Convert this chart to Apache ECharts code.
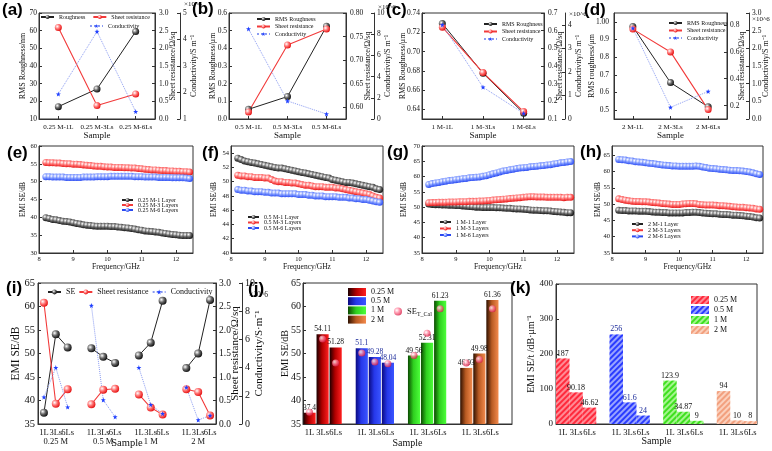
<!DOCTYPE html>
<html><head><meta charset="utf-8">
<script src="https://cdn.jsdelivr.net/npm/echarts/dist/echarts.min.js"></script>
<style>html,body{margin:0;padding:0;background:#fff}#c{width:772px;height:451px}</style>
</head><body><div id="c"></div>
<script>
// ---------------- DATA ----------------
// (a)
const aCats = ['0.25 M-1L','0.25 M-3Ls','0.25 M-6Ls'];
const aRough = [17.0, 27.0, 59.5];
const aSheet = [2.59, 0.38, 0.71];
const aCond  = [1.94, 4.30, 1.28];
// (b)
const bCats = ['0.5 M-1L','0.5 M-3Ls','0.5 M-6Ls'];
const bRough = [0.055, 0.127, 0.525];
const bSheet = [0.59, 0.732, 0.766];
const bCond  = [8.5, 1.7, 0.47];
// (c)
const cCats = ['1 M-1L','1 M-3Ls','1 M-6Ls'];
const cRough = [0.729, 0.6775, 0.636];
const cSheet = [0.62, 0.363, 0.142];
const cCond  = [4.0, 1.35, 0.24];
// (d)
const dCats = ['2 M-1L','2 M-3Ls','2 M-6Ls'];
const dRough = [0.973, 0.656, 0.519];
const dSheet = [0.77, 0.60, 0.17];
const dCond  = [2.57, 0.33, 0.78];

// (e)-(h) frequency sweeps
const freq = [8.2,8.3,8.4,8.5,8.6,8.7,8.8,8.9,9.0,9.1,9.2,9.3,9.4,9.5,9.6,9.7,9.8,9.9,10.0,10.1,10.2,10.3,10.4,10.5,10.6,10.7,10.8,10.9,11.0,11.1,11.2,11.3,11.4,11.5,11.6,11.7,11.8,11.9,12.0,12.1,12.2,12.3,12.4];
const eNames = ['0.25 M-1 Layer','0.25 M-3 Layers','0.25 M-6 Layers'];
const e1 = [39.9,39.7,39.4,39.3,39.1,38.9,38.8,38.7,38.5,38.3,38.1,37.9,37.8,37.7,37.6,37.5,37.5,37.5,37.5,37.4,37.4,37.3,37.2,37.1,37.0,36.9,36.7,36.5,36.4,36.2,36.1,36.0,35.9,35.8,35.6,35.5,35.3,35.2,35.1,35.0,34.9,34.9,34.9];
const e3 = [55.4,55.3,55.3,55.2,55.2,55.1,55.0,55.0,54.9,54.9,54.8,54.7,54.6,54.5,54.4,54.3,54.3,54.2,54.1,54.1,54.0,54.0,54.0,53.9,53.9,53.8,53.8,53.7,53.6,53.5,53.4,53.3,53.3,53.2,53.1,53.1,53.0,53.0,52.9,52.9,52.8,52.8,52.7];
const e6 = [51.4,51.4,51.3,51.3,51.3,51.3,51.2,51.2,51.2,51.2,51.2,51.3,51.3,51.3,51.3,51.4,51.4,51.4,51.4,51.5,51.5,51.5,51.5,51.5,51.5,51.5,51.4,51.4,51.4,51.3,51.3,51.3,51.3,51.2,51.2,51.2,51.2,51.1,51.1,51.1,51.1,51.0,50.9];
const fNames = ['0.5 M-1 Layer','0.5 M-3 Layers','0.5 M-6 Layers'];
const f1 = [53.3,53.1,52.9,52.8,52.7,52.6,52.5,52.4,52.3,52.2,52.1,52.0,51.9,51.9,51.8,51.7,51.6,51.5,51.4,51.3,51.2,51.1,51.0,50.9,50.8,50.7,50.6,50.5,50.3,50.2,50.1,50.0,49.9,49.9,49.8,49.7,49.6,49.5,49.4,49.3,49.2,49.0,48.9];
const f3 = [50.9,50.8,50.8,50.7,50.7,50.6,50.6,50.6,50.5,50.5,50.3,50.1,50.0,50.0,49.9,49.9,49.8,49.8,49.7,49.6,49.5,49.5,49.4,49.3,49.3,49.3,49.2,49.2,49.2,49.1,49.1,49.0,48.9,48.8,48.7,48.6,48.5,48.4,48.3,48.2,48.0,47.8,47.7];
const f6 = [48.9,48.8,48.8,48.7,48.7,48.6,48.6,48.6,48.5,48.5,48.4,48.4,48.4,48.3,48.3,48.3,48.3,48.3,48.2,48.2,48.2,48.1,48.1,48.0,48.0,48.0,47.9,47.9,47.9,47.9,47.8,47.8,47.8,47.7,47.7,47.6,47.6,47.5,47.5,47.4,47.3,47.2,47.1];
const gNames = ['1 M-1 Layer','1 M-3 Layers','1 M-6 Layers'];
const g1 = [51.0,50.9,50.8,50.8,50.7,50.7,50.6,50.6,50.5,50.5,50.4,50.3,50.2,50.1,50.0,50.0,49.9,49.9,49.9,49.9,49.8,49.8,49.7,49.6,49.6,49.5,49.4,49.4,49.3,49.2,49.1,49.0,49.0,48.9,48.8,48.8,48.7,48.6,48.5,48.4,48.3,48.2,48.2];
const g3 = [51.4,51.5,51.5,51.6,51.6,51.6,51.7,51.7,51.7,51.8,51.8,51.8,51.9,51.9,51.9,52.0,52.0,52.1,52.2,52.3,52.4,52.5,52.6,52.7,52.8,52.9,53.0,53.1,53.2,53.3,53.4,53.4,53.3,53.3,53.3,53.2,53.2,53.2,53.2,53.2,53.1,53.2,53.2];
const g6 = [57.4,57.7,57.9,58.1,58.3,58.5,58.7,58.8,59.0,59.1,59.3,59.4,59.6,59.7,59.8,59.9,60.1,60.3,60.6,60.9,61.2,61.5,61.8,62.0,62.2,62.4,62.6,62.8,62.9,63.0,63.2,63.3,63.4,63.5,63.6,63.8,63.9,64.1,64.3,64.5,64.6,64.8,64.9];
const hNames = ['2 M-1 Layer','2 M-3 Layers','2 M-6 Layers'];
const h1 = [48.1,48.0,48.0,47.9,47.9,47.9,47.8,47.8,47.8,47.7,47.6,47.5,47.5,47.4,47.4,47.3,47.3,47.3,47.3,47.3,47.4,47.4,47.5,47.5,47.4,47.3,47.2,47.1,47.0,47.0,46.9,46.8,46.8,46.7,46.6,46.6,46.5,46.4,46.3,46.2,46.0,45.8,45.7];
const h3 = [51.6,51.4,51.2,51.0,50.9,50.8,50.8,50.7,50.7,50.6,50.5,50.4,50.3,50.2,50.1,50.0,49.9,49.9,49.9,50.0,50.1,50.2,50.2,50.1,49.9,49.8,49.7,49.7,49.7,49.6,49.5,49.5,49.4,49.3,49.2,49.1,49.0,49.0,48.9,48.8,48.7,48.5,48.4];
const h6 = [63.7,63.6,63.5,63.3,63.2,63.0,62.9,62.8,62.7,62.5,62.4,62.3,62.1,62.0,61.9,61.8,61.7,61.7,61.6,61.6,61.6,61.6,61.6,61.7,61.6,61.4,61.2,61.0,60.9,60.8,60.7,60.6,60.5,60.4,60.3,60.3,60.2,60.1,60.0,59.8,59.6,59.3,59.1];

// (i)-(k) grouped samples
const layers = ['1L','3Ls','6Ls'];
const groups = ['0.25 M','0.5 M','1 M','2 M'];
const iSE    = [[37.4,54.1,51.3],[51.1,49.3,48.0],[49.6,52.3,61.2],[46.9,50.0,61.4]];
const iSheet = [[2.58,0.43,0.74],[0.42,0.73,0.75],[0.63,0.35,0.20],[0.74,0.68,0.18]];
const iCond  = [[1.9,4.0,1.2],[8.4,1.7,0.5],[4.0,1.37,0.73],[2.6,0.28,0.6]];
const jSE    = [[37.4,54.11,51.28],[51.1,49.28,48.04],[49.56,52.31,61.23],[46.93,49.98,61.36]];
const jCal   = [[37.5,53.1,48.0],[50.1,48.2,47.8],[49.6,54.3,59.5],[48.0,48.7,59.5]];
const kSEt   = [[187,90.18,46.62],[256,61.6,24],[123.9,34.87,9],[94,10,8]];

// ---------------- HELPERS ----------------
const FS = 'Liberation Serif';
const grids = [], xAxes = [], yAxes = [], series = [], legends = [], graphics = [];
function merge(a, b){ const r = Object.assign({}, a); for (const k in b){ const v=b[k]; if (v && typeof v==='object' && !Array.isArray(v) && a[k] && typeof a[k]==='object' && !v.colorStops) r[k]=Object.assign({}, a[k], v); else r[k]=v; } return r; }
function addGrid(g){ grids.push(Object.assign({show:true, borderColor:'#333', borderWidth:1, backgroundColor:'rgba(0,0,0,0)', containLabel:false, outerBoundsMode:'none'}, g)); return grids.length-1; }
function axis(o, fs, nfs){
  return merge({
    axisLine:{show:true, onZero:false, lineStyle:{color:'#333', width:1}},
    axisTick:{show:true, inside:true, length:3, lineStyle:{color:'#333', width:1}},
    axisLabel:{color:'#111', fontFamily:FS, fontSize:fs, margin:3},
    splitLine:{show:false},
    nameLocation:'middle', nameMoveOverlap:false,
    nameTextStyle:{color:'#111', fontFamily:FS, fontSize:nfs}
  }, o);
}
function sphere(c1, c2){ return {type:'radial', x:0.35, y:0.35, r:0.75, colorStops:[{offset:0,color:'#ffffff'},{offset:0.45,color:c1},{offset:1,color:c2}]}; }
const BLK = sphere('#666','#000'), RED = sphere('#ff7070','#e00000'), BLU = sphere('#7a95ff','#1a3cf0'), PNK = sphere('#ff7f9a','#d0103a');
const STAR = 'path://M5,0 L6.2,3.6 L10,3.8 L7,6.1 L8,10 L5,7.8 L2,10 L3,6.1 L0,3.8 L3.8,3.6 Z';
function lineS(name, xi, yi, data, kind, size){
  const s = {type:'line', name, xAxisIndex:xi, yAxisIndex:yi, data, symbol:'circle', symbolSize:size||7, z:3};
  if (kind==='k'){ s.itemStyle={color:BLK}; s.lineStyle={color:'#222', width:1}; }
  if (kind==='r'){ s.itemStyle={color:RED}; s.lineStyle={color:'#f23a3a', width:1.1}; }
  if (kind==='b'){ s.itemStyle={color:BLU}; s.lineStyle={color:'#2a48f0', width:1}; }
  if (kind==='c'){ s.symbol=STAR; s.symbolSize=5; s.itemStyle={color:'#1f3fff'}; s.lineStyle={color:'#8b9cf2', width:1, type:'dotted'}; }
  return s;
}
function legTxt(fs){ return {fontFamily:FS, fontSize:fs, color:'#111'}; }
function label(txt, x, y, size){ graphics.push({type:'text', left:x, top:y, z:100, style:{text:txt, font:'bold '+size+'px "Liberation Sans"', fill:'#000'}}); }
function small(txt, x, y, size){ graphics.push({type:'text', left:x, top:y, z:100, style:{text:txt, font:(size||7)+'px "Liberation Serif"', fill:'#111'}}); }

// ---------------- TOP ROW ----------------
function topPanel(g, cats, rough, sheet, cond, c){
  const gi = addGrid(g);
  xAxes.push(axis({type:'category', gridIndex:gi, data:cats, boundaryGap:true, name:'Sample', nameGap:12,
    axisTick:{alignWithLabel:true}, axisLabel:{interval:0, margin:5}}, 7, 9));
  const xi = xAxes.length-1;
  yAxes.push(axis(merge({type:'value', gridIndex:gi, position:'left', nameRotate:90, name:c.lName, nameGap:c.lGap, axisLabel:{margin:c.lMar||2}}, c.left), 7.5, 8));
  const yl = yAxes.length-1;
  yAxes.push(axis(merge({type:'value', gridIndex:gi, position:'right', nameRotate:90, name:'Sheet resistance/Ω/sq', nameGap:c.rGap, axisLabel:{margin:c.rMar||4}}, c.right), 7.5, 8));
  const yr = yAxes.length-1;
  yAxes.push(axis(merge({type:'value', gridIndex:gi, position:'right', offset:c.off, nameRotate:90, name:'Conductivity/S m⁻¹', nameGap:c.tGap, axisLabel:{margin:3}}, c.third), 7.5, 8));
  const yt = yAxes.length-1;
  series.push(lineS(c.roughName, xi, yl, rough, 'k'));
  series.push(lineS('Sheet resistance', xi, yr, sheet, 'r'));
  series.push(lineS('Conductivity', xi, yt, cond, 'c'));
}
const f1d = v => v.toFixed(1), f2d = v => v.toFixed(2);
topPanel({left:39, top:13, width:116, height:106}, aCats, aRough, aSheet, aCond, {
  roughName:'Roughness', lName:'RMS Roughness/nm', lGap:12, rGap:14, tGap:10, off:25,
  left:{min:10, max:70, interval:10}, right:{min:0, max:3, interval:0.5, axisLabel:{formatter:f1d}}, third:{min:1, max:5, interval:1}});
topPanel({left:229, top:13, width:117, height:106}, bCats, bRough, bSheet, bCond, {
  roughName:'RMS Roughness', lName:'RMS Roughness/μm', lGap:12, rGap:18, tGap:10, off:28,
  left:{min:0, max:0.6, interval:0.1, axisLabel:{formatter:f1d}}, right:{min:0.575, max:0.8, splitNumber:5, axisLabel:{formatter:f2d, showMinLabel:false}}, third:{min:0, max:10, interval:2}});
topPanel({left:422, top:13, width:122, height:106}, cCats, cRough, cSheet, cCond, {
  roughName:'RMS Roughness', lName:'RMS Roughness/μm', lGap:15, rGap:12, tGap:10, off:21,
  left:{min:0.63, max:0.74, splitNumber:5, axisLabel:{formatter:f2d, showMinLabel:false}}, right:{min:0.1, max:0.7, interval:0.1, axisLabel:{formatter:f1d}}, third:{min:0, max:4.5, interval:1, axisLabel:{showMaxLabel:false}}});
topPanel({left:614, top:13, width:113, height:106}, dCats, dRough, dSheet, dCond, {
  roughName:'RMS Roughness', lName:'RMS roughness/μm', lGap:18, lMar:5, rGap:11, rMar:3, tGap:13, off:22,
  left:{min:0.45, max:1.05, splitNumber:6, axisLabel:{formatter:v => v===1 ? '1.00' : v.toFixed(1), showMinLabel:false, showMaxLabel:false}},
  right:{min:0.1, max:0.89, splitNumber:4, axisLabel:{formatter:f1d, showMinLabel:false, showMaxLabel:false}}, third:{min:0, max:3, interval:0.5, axisLabel:{formatter:f1d}}});

const topLeg = {orient:'vertical', padding:0, itemWidth:13, itemHeight:5, itemGap:1.5, textStyle:legTxt(6)};
legends.push(Object.assign({}, topLeg, {orient:'horizontal', left:40, top:14, itemGap:7, data:['Roughness','Sheet resistance']}));
legends.push(Object.assign({}, topLeg, {left:89, top:23, data:['Conductivity']}));
legends.push(Object.assign({}, topLeg, {left:256, top:16, data:['RMS Roughness','Sheet resistance','Conductivity']}));
legends.push(Object.assign({}, topLeg, {left:483, top:21, data:['RMS Roughness','Sheet resistance','Conductivity']}));
legends.push(Object.assign({}, topLeg, {left:668, top:20, data:['RMS Roughness','Sheet resistance','Conductivity']}));
small('×10^6', 184, 1); small('×10^6', 378, 4); small('×10^6', 569, 11); small('×10^6', 752, 16);

// ---------------- MIDDLE ROW ----------------
function midPanel(g, names, sets, yCfg, yGap, leg){
  const gi = addGrid(g);
  xAxes.push(axis({type:'value', gridIndex:gi, min:8, max:12.5, interval:1, name:'Frequency/GHz', nameGap:10, axisLabel:{showMaxLabel:false, margin:3}}, 6.5, 7.5));
  const xi = xAxes.length-1;
  yAxes.push(axis(merge({type:'value', gridIndex:gi, position:'left', nameRotate:90, name:'EMI SE/dB', nameGap:yGap, axisLabel:{margin:2}}, yCfg), 6.5, 7.5));
  const yi = yAxes.length-1;
  const kinds = ['k','r','b'];
  sets.forEach((arr, k) => series.push(lineS(names[k], xi, yi, arr.map((v, i) => [freq[i], v]), kinds[k], 7)));
  legends.push({orient:'vertical', padding:0, left:leg[0], top:leg[1], itemWidth:11, itemHeight:5, itemGap:leg[2], textStyle:legTxt(6), data:names});
}
midPanel({left:39, top:146, width:154, height:107}, eNames, [e1,e3,e6], {min:30, max:60, interval:5}, 12, [121, 197, -1]);
midPanel({left:231, top:146, width:152, height:107}, fNames, [f1,f3,f6], {min:40, max:55, interval:2, axisLabel:{showMaxLabel:false}}, 13, [247, 214, -0.5]);
midPanel({left:422, top:146, width:152, height:107}, gNames, [g1,g3,g6], {min:35, max:70, interval:5}, 14, [439, 219, 0.5]);
midPanel({left:612, top:146, width:151, height:107}, hNames, [h1,h3,h6], {min:35, max:67.8, interval:5, axisLabel:{showMaxLabel:false}}, 10, [631, 221, 0.2]);

// ---------------- BOTTOM ROW ----------------
function slots(trailingGap){
  const cats = [], gIdx = [], lIdx = [];
  groups.forEach((g, gi) => {
    layers.forEach((l, li) => { cats.push(l); gIdx.push(gi); lIdx.push(li); });
    if (gi < groups.length-1 || trailingGap){ cats.push(''); gIdx.push(-1); lIdx.push(-1); }
  });
  return {cats, gIdx, lIdx};
}
const spread = (vals, s) => s.gIdx.map((g, i) => g < 0 ? '-' : vals[g][s.lIdx[i]]);
const spreadOne = (vals, s, sel) => s.gIdx.map((g, i) => g === sel ? vals[g][s.lIdx[i]] : '-');

// (i)
{
  const s = slots(false);
  const gi = addGrid({left:38, top:283, width:178, height:141});
  xAxes.push(axis({type:'category', gridIndex:gi, data:s.cats, boundaryGap:true, name:'Sample', nameGap:14,
    axisTick:{show:false}, axisLabel:{interval:0, margin:4, lineHeight:9,
      formatter:(v, idx) => s.lIdx[idx] === 1 ? v + '\n' + groups[s.gIdx[idx]] : v}}, 8.5, 10.5));
  const xi = xAxes.length-1;
  yAxes.push(axis({type:'value', gridIndex:gi, position:'left', min:35, max:65, interval:5, nameRotate:90, name:'EMI SE/dB', nameGap:16}, 10.5, 11.5));
  const yl = yAxes.length-1;
  yAxes.push(axis({type:'value', gridIndex:gi, position:'right', min:0, max:3, interval:0.5, nameRotate:90, name:'Sheet resistance/Ω/sq', nameGap:14, axisLabel:{formatter:f1d}}, 9.5, 11));
  const yr = yAxes.length-1;
  yAxes.push(axis({type:'value', gridIndex:gi, position:'right', offset:26, min:0, max:10, interval:2, nameRotate:90, name:'Conductivity/S·m⁻¹', nameGap:12}, 10, 11));
  const yt = yAxes.length-1;
  series.push(lineS('SE', xi, yl, spread(iSE, s), 'k', 8));
  series.push(lineS('Sheet resistance', xi, yr, spread(iSheet, s), 'r', 8));
  series.push(lineS('Conductivity', xi, yt, spread(iCond, s), 'c'));
  legends.push({orient:'horizontal', padding:0, left:47, top:288, itemWidth:13, itemHeight:6, itemGap:3, textStyle:legTxt(8), data:['SE','Sheet resistance','Conductivity']});
  small('×10^6', 249, 291, 7.5);
}

// (j)
const jColors = [['#1c0000','#b00000','#ff1f1f'],['#0a0a80','#2638ea','#3a55ff'],['#0b4a00','#2fcf1f','#4cff3a'],['#2e1000','#b85a22','#f38a4c']];
const jLabelColor = ['#111','#1a2a9a','#111','#111'];
{
  const s = slots(true);
  const gi = addGrid({left:303, top:283, width:209, height:141});
  xAxes.push(axis({type:'category', gridIndex:gi, data:s.cats, boundaryGap:true, name:'Sample', nameGap:14,
    axisTick:{show:false}, axisLabel:{interval:0, margin:4}}, 8.5, 10));
  const xi = xAxes.length-1;
  yAxes.push(axis({type:'value', gridIndex:gi, position:'left', min:35, max:65, interval:5, nameRotate:90, name:'EMI SE/dB', nameGap:13, axisLabel:{margin:2}}, 10, 10));
  const yi = yAxes.length-1;
  groups.forEach((g, k) => {
    const c = jColors[k];
    series.push({type:'bar', name:g, xAxisIndex:xi, yAxisIndex:yi, data:spreadOne(jSE, s, k), barGap:'-100%', barCategoryGap:'7%',
      itemStyle:{color:{type:'linear', x:0, y:0, x2:1, y2:0, colorStops:[{offset:0,color:c[0]},{offset:0.45,color:c[1]},{offset:1,color:c[2]}]}},
      label:{show:true, position:'top', distance:1, fontFamily:FS, fontSize:7.5, color:jLabelColor[k]}});
  });
  series.push({type:'scatter', name:'SE_T_Cal', xAxisIndex:xi, yAxisIndex:yi, data:spread(jCal, s), symbol:'circle', symbolSize:7, z:5, itemStyle:{color:PNK}});
  legends.push({orient:'vertical', padding:0, left:348, top:288, icon:'rect', itemWidth:18, itemHeight:8, itemGap:1.2, textStyle:legTxt(8), data:groups.slice()});
  legends.push({orient:'vertical', padding:0, left:394, top:307, itemWidth:8, itemHeight:8, textStyle:{fontFamily:FS, fontSize:8.5, color:'#111', rich:{a:{fontFamily:FS, fontSize:8.5, color:'#111'}, b:{fontFamily:FS, fontSize:6, color:'#111', padding:[5,0,0,0]}}},
    formatter:() => '{a|SE}{b|T_Cal}', data:['SE_T_Cal']});
}

// (k)
const kColors = [['#ff8a94','#ff2a3c'],['#9aa4ff','#2a3cff'],['#a4f58e','#3fe01f'],['#fbd0bc','#f2a07e']];
{
  const s = slots(false);
  const gi = addGrid({left:556, top:284, width:201, height:140});
  xAxes.push(axis({type:'category', gridIndex:gi, data:s.cats, boundaryGap:true, name:'Sample', nameGap:12,
    axisTick:{show:false}, axisLabel:{interval:0, margin:4}}, 8.5, 10));
  const xi = xAxes.length-1;
  yAxes.push(axis({type:'value', gridIndex:gi, position:'left', min:0, max:400, interval:100, nameRotate:90, name:'EMI SE/t /dB·μm⁻¹', nameGap:20}, 9, 10));
  const yi = yAxes.length-1;
  groups.forEach((g, k) => {
    const c = kColors[k];
    series.push({type:'bar', name:g + ' ', xAxisIndex:xi, yAxisIndex:yi, data:spreadOne(kSEt, s, k), barGap:'-100%', barCategoryGap:'0%',
      itemStyle:{color:c[0], decal:{symbol:'rect', symbolSize:1, color:c[1], dashArrayX:[1,0], dashArrayY:[2,1.5], rotation:-Math.PI/4}},
      label:{show:true, position:'top', distance:1, fontFamily:FS, fontSize:8, color:k===1 ? '#1a2a9a' : '#111'}});
  });
  legends.push({orient:'vertical', padding:0, left:691, top:296, icon:'rect', itemWidth:18, itemHeight:8, itemGap:2, textStyle:legTxt(8), data:groups.map(g => g + ' ')});
}

// panel labels
label('(a)', 2, 2, 17); label('(b)', 192, 1, 17); label('(c)', 386, 2, 17); label('(d)', 584, 2, 17);
label('(e)', 7, 145, 17); label('(f)', 202, 145, 17); label('(g)', 387, 144, 17); label('(h)', 580, 144, 17);
label('(i)', 6, 280, 17); label('(j)', 248, 281, 17); label('(k)', 510, 280, 17);

const chart = echarts.init(document.getElementById('c'), null, {renderer:'canvas'});
chart.setOption({
  animation:false, backgroundColor:'#fff', textStyle:{fontFamily:FS},
  grid:grids, xAxis:xAxes, yAxis:yAxes, series, legend:legends, graphic:{elements:graphics}
});
</script></body></html>
